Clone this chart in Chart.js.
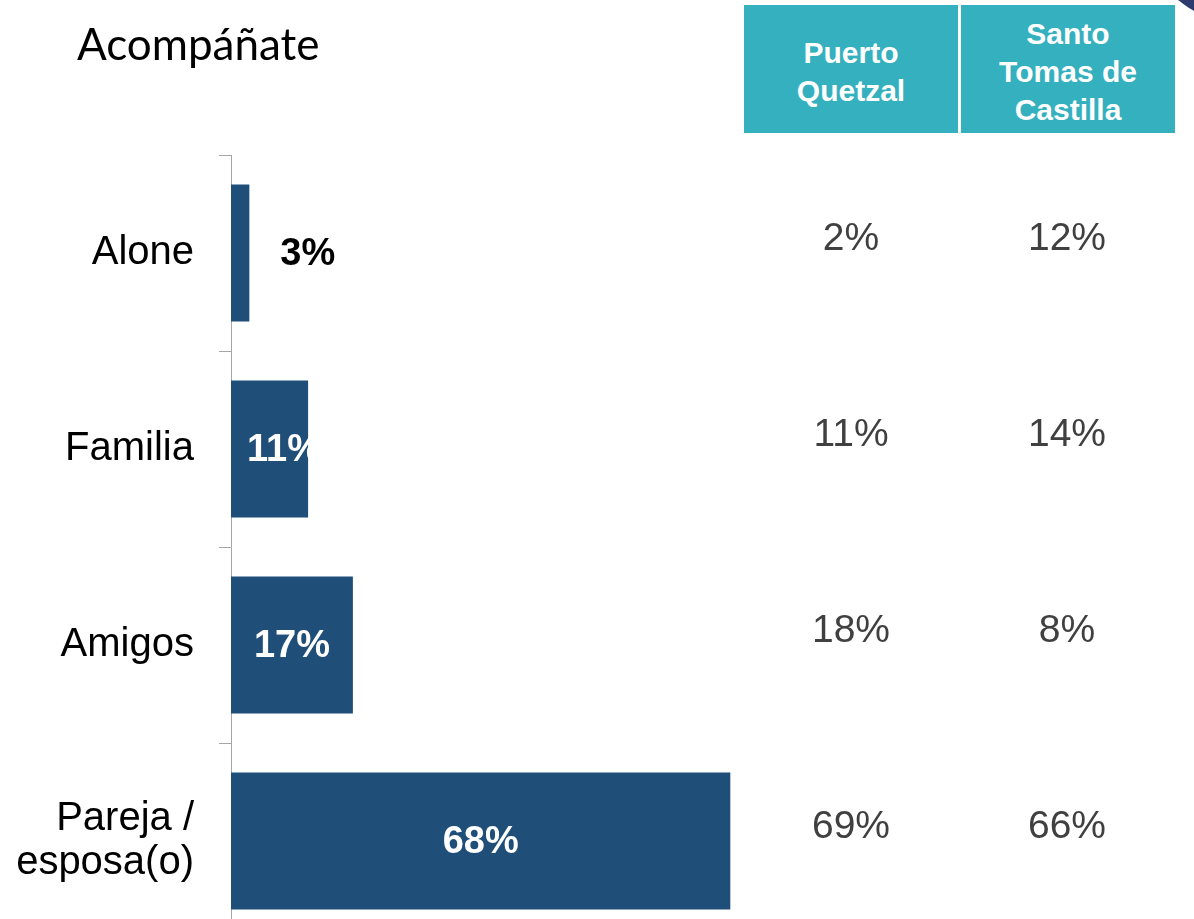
<!DOCTYPE html>
<html>
<head>
<meta charset="utf-8">
<script src="https://cdn.jsdelivr.net/npm/chart.js@4/dist/chart.umd.min.js"></script>
<style>
  html, body { margin: 0; padding: 0; background: #fff; overflow: hidden; }
  #wrap { position: relative; width: 1194px; height: 919px; overflow: hidden; }
  #myChart { position: absolute; left: 0; top: 0; }
  .title { position: absolute; left: 77px; top: 17px; font-family: Lato, 'Open Sans', sans-serif; font-size: 44px; color: #000; }
  .head { position: absolute; top: 5px; width: 214px; height: 128px; box-sizing: border-box; padding-top: 6px; background: #34B0BE;
          color: #fff; font-family: 'Liberation Sans', Arial, sans-serif; font-weight: bold; font-size: 30px;
          line-height: 38px; display: flex; align-items: center; justify-content: center; text-align: center; }
  .corner { position: absolute; left: 1122px; top: -267px; width: 300px; height: 300px; border-radius: 50%; background: #2C3A6E; }
</style>
</head>
<body>
<div id="wrap">
  <canvas id="myChart" width="1194" height="990"></canvas>
  <div class="title">Acompáñate</div>
  <div class="corner"></div>
  <div class="head" style="left:744px">Puerto<br>Quetzal</div>
  <div class="head" style="left:961px">Santo<br>Tomas de<br>Castilla</div>
</div>
<script>
// categories and values (total), plus the two site columns
let categories = ['Alone', 'Familia', 'Amigos', ['Pareja /', 'esposa(o)']];
let totals = [2.5, 10.5, 16.6, 68];
let puertoQuetzal = [2, 11, 18, 69];
let santoTomas = [12, 14, 8, 66];

var barColor = '#1F4E79';
var textFont = "'Liberation Sans', Arial, sans-serif";

// draws the % labels on the bars and the numbers of the table on the right
var labelsPlugin = {
    id: 'labels',
    afterDatasetsDraw: function (chart) {
        var ctx = chart.ctx;
        var meta = chart.getDatasetMeta(0);
        ctx.save();
        ctx.textBaseline = 'middle';
        ctx.font = 'bold 38px ' + textFont;
        meta.data.forEach(function (bar, i) {
            var v = totals[i];
            var txt = Math.round(v) + '%';
            var w = ctx.measureText(txt).width;
            if (v < 5) {
                ctx.fillStyle = '#000';
                ctx.textAlign = 'left';
                ctx.fillText(txt, bar.x + 31, bar.y + 2);
            } else {
                ctx.fillStyle = '#fff';
                ctx.textAlign = 'center';
                var cx = Math.max((bar.base + bar.x) / 2, bar.base + 16 + w / 2);
                ctx.fillText(txt, cx, bar.y + 2);
            }
        });

        // table values
        ctx.font = '39px ' + textFont;
        ctx.fillStyle = '#404040';
        ctx.textAlign = 'center';
        var yScale = chart.scales.y;
        for (let i = 0; i < categories.length; i++) {
            var y = yScale.getPixelForValue(i) - 14;
            ctx.fillText(puertoQuetzal[i] + '%', 851, y);
            ctx.fillText(santoTomas[i] + '%', 1067, y);
        }
        ctx.restore();
    }
};

var ctx = document.getElementById('myChart').getContext('2d');
var chart = new Chart(ctx, {
    type: 'bar',
    data: {
        labels: categories,
        datasets: [{
            label: 'Acompáñate',
            backgroundColor: barColor,
            borderWidth: 0,
            data: totals,
            barPercentage: 0.7,
            categoryPercentage: 1.0
        }]
    },
    options: {
        indexAxis: 'y',
        responsive: false,
        animation: false,
        devicePixelRatio: 1,
        layout: { padding: { left: 0, right: 449, top: 155, bottom: 51 } },
        plugins: {
            legend: { display: false },
            tooltip: { enabled: false }
        },
        scales: {
            x: {
                display: false,
                min: 0,
                max: 70
            },
            y: {
                afterFit: function (scale) { scale.width = 231; },
                border: { display: true, color: '#A6A6A6', width: 1 },
                grid: {
                    display: true,
                    offset: true,
                    drawOnChartArea: false,
                    drawTicks: true,
                    tickLength: 12,
                    color: '#A6A6A6'
                },
                ticks: {
                    color: '#000',
                    padding: 25,
                    font: { family: textFont, size: 40, lineHeight: 1.1 }
                }
            }
        }
    },
    plugins: [labelsPlugin]
});
</script>
</body>
</html>
